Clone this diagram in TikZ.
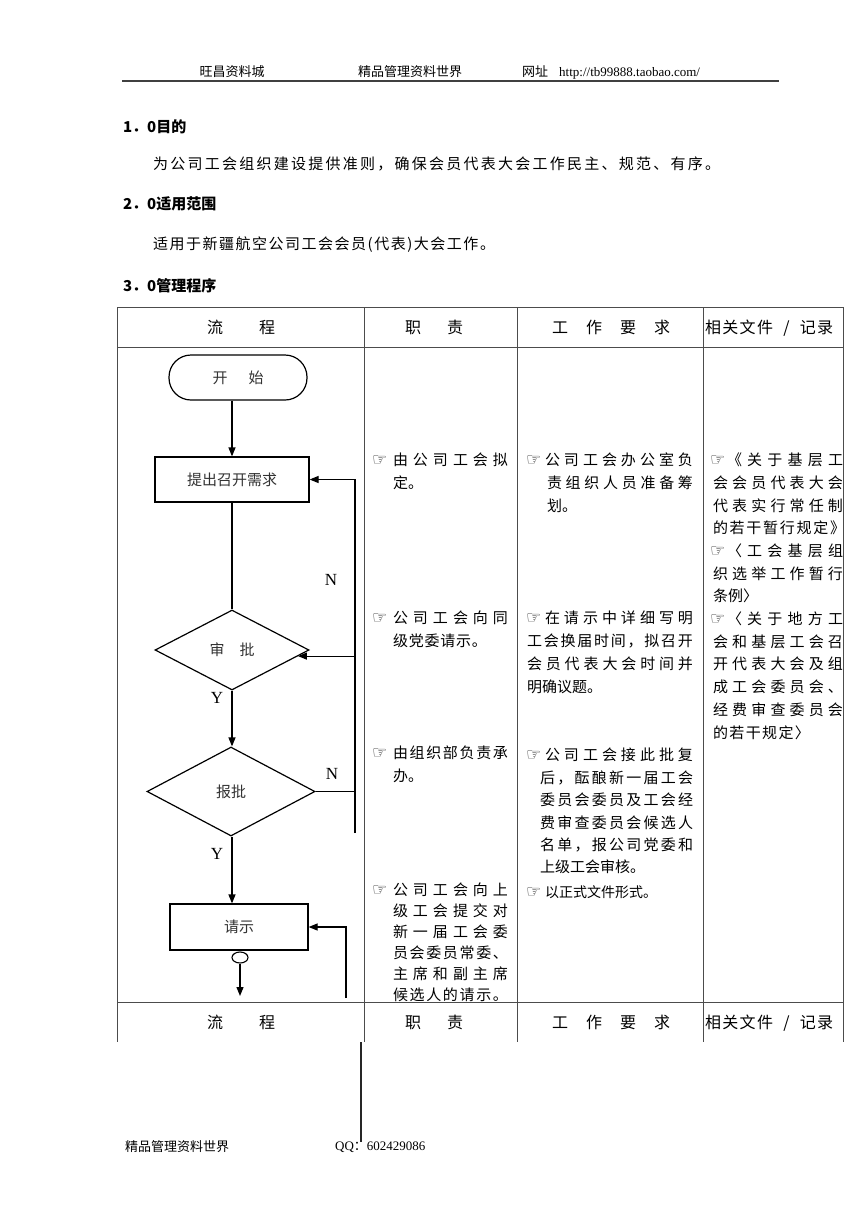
\documentclass[tikz,border=0pt]{standalone}
\usepackage{fontspec}
\setmainfont{Noto Sans CJK SC}
\newfontfamily\lat{Liberation Serif}
\newfontfamily\sym{DejaVu Sans}
\usetikzlibrary{arrows.meta,shapes.geometric,calc}
\def\jaux#1{#1\futurelet\jnext\jcheck}
\def\jcheck{\ifx\jnext\relax\expandafter\jend\else\hfil\expandafter\jaux\fi}
\def\jend\relax{}
\newcommand\jl[2]{\hbox to #1pt{\jaux#2\relax}}
\tikzset{
  tl/.style={anchor=base west, inner sep=0pt, outer sep=0pt, yshift=-5.5pt, font=\fontsize{15}{18}\selectfont},
  hand/.style={anchor=base west, inner sep=0pt, outer sep=0pt, yshift=-5pt, font=\sym\fontsize{17}{19}\selectfont, text=black!85},
  thd/.style={anchor=base west, inner sep=0pt, outer sep=0pt, yshift=-5.8pt, font=\fontsize{16}{18}\selectfont},
  hdg/.style={anchor=base west, inner sep=0pt, outer sep=0pt, yshift=-5.5pt, font=\bfseries\fontsize{15}{18}\selectfont},
  hd/.style={inner sep=0pt, font=\fontsize{13}{15}\selectfont},
  tbl/.style={line width=1pt, black!70},
  fl/.style={line width=1.2pt, black},
  arr/.style={fl, -{Triangle[length=9pt,width=7pt]}},
  box/.style={draw, line width=1.2pt, inner sep=0pt, font=\fontsize{15}{18}\selectfont, text=black!80},
  dec/.style={box, diamond, aspect=2},
  yn/.style={inner sep=0pt, font=\lat\fontsize{17}{19}\selectfont},
}
\begin{document}
\begin{tikzpicture}[x=1pt,y=-1pt]
\fill[white] (0,0) rectangle (868,1227);
\useasboundingbox (0,0) rectangle (868,1227);

% page header
\node[hd] (h1) at (232,72) {旺昌资料城};
\node[hd] (h2) at (410,72) {精品管理资料世界};
\node[hd, anchor=west] (h3) at (522,72) {网址\hspace{11pt}{\lat http://tb99888.taobao.com/}};
\draw[line width=2pt, black!75] (122,81) -- (779,81);

% headings and paragraphs
\node[hdg] (s1) at (123,127) {1．0目的};
\node[tl] (p1) at (153,164) {\jl{567}{为公司工会组织建设提供准则，确保会员代表大会工作民主、规范、有序。}};
\node[hdg] (s2) at (123,204) {2．0适用范围};
\node[tl] (p2) at (153,244) {\jl{342}{适用于新疆航空公司工会会员(代表)大会工作。}};
\node[hdg] (s3) at (123,286) {3．0管理程序};

% table
\draw[tbl] (117,307) -- (843,307);
\draw[tbl] (117,347) -- (843,347);
\draw[tbl] (117,1002) -- (843,1002);
\foreach \xx in {117,364,517,703,843} \draw[tbl] (\xx,307) -- (\xx,1042);
\draw[line width=1.3pt, black!85] (361,1042) -- (361,1142);

% table header rows
\node[thd] (t1) at (207,328) {\jl{68}{流程}};
\node[thd] (t2) at (405,328) {\jl{58}{职责}};
\node[thd] (t3) at (552,328) {\jl{118}{工作要求}};
\node[thd] (t4) at (705,328) {\hbox to 128pt{\jl{68}{相关文件}\hfil/\hfil\jl{33}{记录}}};
\node[thd] (b1) at (207,1023) {\jl{68}{流程}};
\node[thd] (b2) at (405,1023) {\jl{58}{职责}};
\node[thd] (b3) at (552,1023) {\jl{118}{工作要求}};
\node[thd] (b4) at (705,1023) {\hbox to 128pt{\jl{68}{相关文件}\hfil/\hfil\jl{33}{记录}}};

% flowchart
\node[box, rounded corners=22pt, minimum width=138pt, minimum height=45pt] (start) at (238,377.5) {\jl{51}{开始}};
\node[box, minimum width=154pt, minimum height=45pt] (req) at (232,479.5) {提出召开需求};
\node[dec, minimum width=154pt, minimum height=80pt] (d1) at (232,650) {\jl{45}{审批}};
\node[dec, minimum width=168pt, minimum height=89pt] (d2) at (231,791.5) {报批};
\node[box, minimum width=138pt, minimum height=46pt] (rq) at (239,927) {请示};
\node[draw, line width=1.1pt, ellipse, minimum width=16pt, minimum height=11pt, inner sep=0pt] (cir) at (240,957.5) {};

\coordinate (fbT) at (355,480);
\coordinate (fbB) at (355,833);
\coordinate (d1in) at ($(d1.east)!0.15!(d1.south)$);
\coordinate (cirEnd) at (240,996);
\coordinate (rtB) at (346,998);

\draw[arr] (start.south -| req.north) -- (req.north);
\draw[fl] (req.south) -- (d1.north);
\draw[arr] (d1.south) -- (d1.south |- d2.north);
\draw[arr] (d2.south -| d1.south) -- (d1.south |- rq.north);
\draw[arr] (fbB) -- (fbT |- req.east) -- (req.east);
\draw[arr] (d1in -| fbT) -- (d1in);
\draw[fl] (d2.east) -- (d2.east -| fbT);
\draw[arr] (cir.south) -- (cirEnd);
\draw[arr] (rtB) -- (rtB |- rq.east) -- (rq.east);

\node[yn] (n1) at (331,580) {N};
\node[yn] (n2) at (332,774) {N};
\node[yn] (y1) at (217,698) {Y};
\node[yn] (y2) at (217,854) {Y};

% column 2: responsibilities
\node[hand] (k21) at (372,460) {☞};
\node[tl] (c21a) at (393,460) {\jl{115}{由公司工会拟}};
\node[tl] (c21b) at (393,483) {定。};
\node[hand] (k22) at (372,618) {☞};
\node[tl] (c22a) at (393,618) {\jl{115}{公司工会向同}};
\node[tl] (c22b) at (393,641) {\jl{94}{级党委请示。}};
\node[hand] (k23) at (372,753) {☞};
\node[tl] (c23a) at (393,753) {\jl{115}{由组织部负责承}};
\node[tl] (c23b) at (393,776) {办。};
\node[hand] (k24) at (372,890) {☞};
\node[tl] (c24a) at (393,890) {\jl{115}{公司工会向上}};
\node[tl] (c24b) at (393,911) {\jl{115}{级工会提交对}};
\node[tl] (c24c) at (393,932) {\jl{115}{新一届工会委}};
\node[tl] (c24d) at (393,953) {\jl{115}{员会委员常委、}};
\node[tl] (c24e) at (393,974) {\jl{115}{主席和副主席}};
\node[tl] (c24f) at (393,995) {\jl{115}{候选人的请示。}};

% column 3: work requirements
\node[hand] (k31) at (526,460) {☞};
\node[tl] (c31a) at (545,460) {\jl{148}{公司工会办公室负}};
\node[tl] (c31b) at (547,483) {\jl{146}{责组织人员准备筹}};
\node[tl] (c31c) at (547,506) {划。};
\node[hand] (k32) at (526,618) {☞};
\node[tl] (c32a) at (545,618) {\jl{148}{在请示中详细写明}};
\node[tl] (c32b) at (527,641) {\jl{166}{工会换届时间，拟召开}};
\node[tl] (c32c) at (527,664) {\jl{166}{会员代表大会时间并}};
\node[tl] (c32d) at (527,687) {明确议题。};
\node[hand] (k33) at (526,755) {☞};
\node[tl] (c33a) at (545,755) {\jl{148}{公司工会接此批复}};
\node[tl] (c33b) at (540,778) {\jl{153}{后，酝酿新一届工会}};
\node[tl] (c33c) at (540,800) {\jl{153}{委员会委员及工会经}};
\node[tl] (c33d) at (540,823) {\jl{153}{费审查委员会候选人}};
\node[tl] (c33e) at (540,845) {\jl{153}{名单，报公司党委和}};
\node[tl] (c33f) at (540,867) {上级工会审核。};
\node[hand] (k34) at (526,892) {☞};
\node[tl, font=\fontsize{14}{16}\selectfont] (c34a) at (545,892) {以正式文件形式。};

% column 4: related documents
\node[hand] (k41) at (710,460) {☞};
\node[tl] (c41a) at (727,460) {\jl{116}{《关于基层工}};
\node[tl] (c41b) at (713,483) {\jl{130}{会会员代表大会}};
\node[tl] (c41c) at (713,506) {\jl{130}{代表实行常任制}};
\node[tl] (c41d) at (713,528) {\jl{132}{的若干暂行规定》}};
\node[hand] (k42) at (710,551) {☞};
\node[tl] (c42a) at (727,551) {\jl{116}{〈工会基层组}};
\node[tl] (c42b) at (713,574) {\jl{130}{织选举工作暂行}};
\node[tl] (c42c) at (713,596) {条例〉};
\node[hand] (k43) at (710,619) {☞};
\node[tl] (c43a) at (727,619) {\jl{116}{〈关于地方工}};
\node[tl] (c43b) at (713,642) {\jl{130}{会和基层工会召}};
\node[tl] (c43c) at (713,664) {\jl{130}{开代表大会及组}};
\node[tl] (c43d) at (713,687) {\jl{130}{成工会委员会、}};
\node[tl] (c43e) at (713,710) {\jl{130}{经费审查委员会}};
\node[tl] (c43f) at (713,733) {\jl{97}{的若干规定〉}};

% footer
\node[hd, anchor=west] (f1) at (125,1147) {精品管理资料世界};
\node[hd, anchor=west] (f2) at (335,1147) {{\lat QQ}：{\lat 602429086}};
\end{tikzpicture}
\end{document}
